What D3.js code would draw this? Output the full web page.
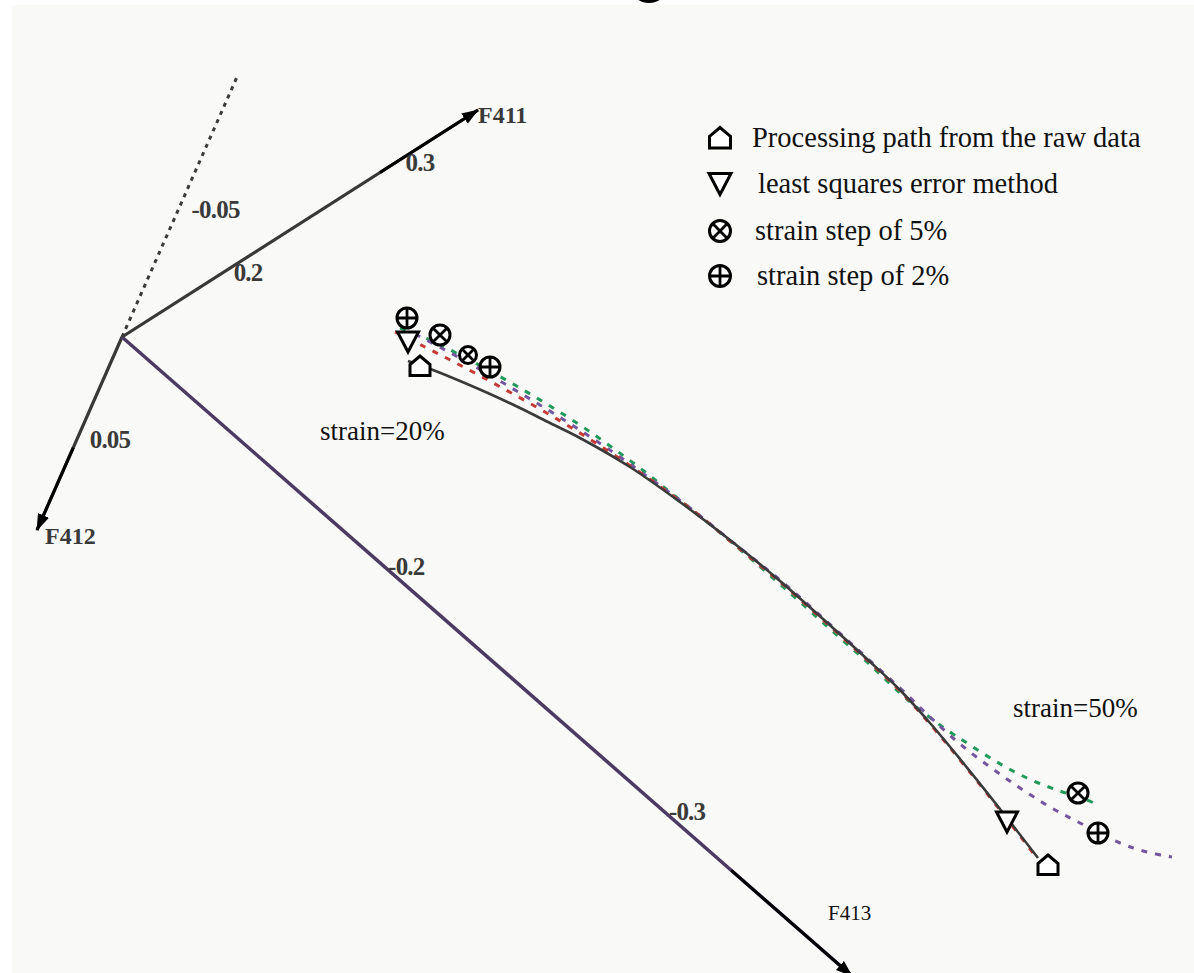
<!DOCTYPE html>
<html>
<head>
<meta charset="utf-8">
<script src="https://cdn.jsdelivr.net/npm/d3@7"></script>
<style>
  html, body { margin: 0; padding: 0; background: #ffffff; }
  svg { display: block; }
  text { font-family: "Liberation Serif", "Times New Roman", serif; }
</style>
</head>
<body>
<svg id="chart" width="1194" height="973"></svg>
<script>
// ---------- DATA (projection-plane units, origin = axes corner) ----------
const axisNames   = ["F411", "F412", "F413", ""];
const axisTips    = [[3.56, 2.27], [-0.85, -1.93], [7.30, -6.39], [1.15, 2.60]];
const axisDomains = [[0.138, 0.345], [0, 0.096], [-0.107, -0.367], [0, -0.1]];
const axisTicks   = [[0.2, 0.3], [0.05], [-0.2, -0.3], [-0.05]];
const axisTickLabels = [["0.2", "0.3"], ["0.05"], ["-0.2", "-0.3"], ["-0.05"]];
const arrowStart  = [0.288, 0.055, -0.324, null];

const seriesNames = ["Processing path from the raw data", "least squares error method",
                     "strain step of 5%", "strain step of 2%"];

const rawPath = [[2.86,-0.24],[3.11,-0.33],[3.38,-0.44],[3.68,-0.57],[3.98,-0.71],[4.28,-0.86],
  [4.58,-1.01],[5.08,-1.30],[5.58,-1.65],[6.08,-2.03],[6.58,-2.44],[7.11,-2.91],[7.45,-3.22],
  [7.78,-3.53],[8.08,-3.86],[8.38,-4.22],[8.78,-4.72],[9.16,-5.21]];

const lsqPath = [[2.73,0.05],[3.03,-0.10],[3.33,-0.255],[3.63,-0.415],[3.93,-0.58],[4.23,-0.75],
  [4.53,-0.93],[4.83,-1.12],[5.13,-1.32],[5.43,-1.53],[5.78,-1.79],[6.08,-2.04],[6.58,-2.45],
  [7.11,-2.92],[7.45,-3.23],[7.78,-3.54],[8.08,-3.87],[8.38,-4.23],[8.78,-4.73],[9.14,-5.20]];

const step5Path = [[2.78,0.09],[3.08,-0.03],[3.38,-0.18],[3.68,-0.34],[3.98,-0.51],[4.28,-0.69],
  [4.58,-0.88],[4.88,-1.09],[5.18,-1.31],[5.48,-1.55],[5.78,-1.79],[6.21,-2.15],[6.51,-2.41],
  [6.78,-2.65],[7.08,-2.92],[7.45,-3.25],[7.78,-3.56],[7.98,-3.73],[8.28,-3.95],[8.45,-4.06],
  [8.75,-4.25],[9.05,-4.41],[9.35,-4.53],[9.65,-4.63],[9.76,-4.68]];

const step2Path = [[2.93,0.03],[3.23,-0.13],[3.53,-0.295],[3.83,-0.47],[4.13,-0.65],[4.43,-0.835],
  [4.73,-1.03],[5.03,-1.235],[5.33,-1.45],[5.68,-1.71],[6.08,-2.03],[6.58,-2.43],[7.11,-2.90],
  [7.45,-3.21],[7.78,-3.51],[8.08,-3.80],[8.38,-4.07],[8.68,-4.30],[8.98,-4.51],[9.28,-4.70],
  [9.58,-4.86],[9.98,-5.06],[10.25,-5.15],[10.50,-5.20]];

const rawMarkers   = [[2.98,-0.29],[9.26,-5.28]];
const lsqMarkers   = [[2.86,-0.05],[8.85,-4.85]];
const step5Markers = [[3.18,0.02,10],[3.46,-0.18,8.5],[9.56,-4.56,10]];
const step2Markers = [[2.85,0.19],[3.68,-0.30],[9.76,-4.96]];

const annotations = [["strain=20%", 1.98, -1.03], ["strain=50%", 8.91, -3.80]];

// ---------- STYLES ----------
const seriesColors = ["#3a3a3a", "#c43a35", "#21995a", "#74559f"];
const svg = d3.select("#chart");
const W = 1194, H = 973;

const x = d3.scaleLinear().domain([-1.22, 10.72]).range([0, W]);
const y = d3.scaleLinear().domain([3.37, -6.36]).range([0, H]);

// background
svg.append("rect").attr("x", 12).attr("y", 5).attr("width", W - 12).attr("height", H - 5)
  .attr("fill", "#f9f9f7");
// fragment of a cut-off glyph at top
svg.append("ellipse").attr("cx", 649).attr("cy", -9).attr("rx", 16).attr("ry", 12).attr("fill", "#000");

// arrow markers
const defs = svg.append("defs");
defs.append("marker").attr("id", "arr").attr("markerUnits", "userSpaceOnUse")
  .attr("markerWidth", 18).attr("markerHeight", 14).attr("refX", 16).attr("refY", 6)
  .attr("orient", "auto")
  .append("path").attr("d", "M0,0 L17,6 L0,12 Z").attr("fill", "#000");

// ---------- AXES ----------
const tickOffsets = [[5, 12], [12, 10], [5, 9], [12, 11]];
const nameOffsets = [[0, 13], [8, 14], [-24, -56], [0, 0]];
const axisColors = ["#383838", "#383838", "#4b3b63", "#3a3a3a"];

axisTips.forEach((tip, i) => {
  const t = d3.scaleLinear().domain(axisDomains[i]).range([0, 1]);
  const pt = v => { const k = t(v); return [x(k * tip[0]), y(k * tip[1])]; };
  const o = [x(0), y(0)];
  const e = [x(tip[0]), y(tip[1])];
  const g = svg.append("g");
  const line = g.append("line").attr("x1", o[0]).attr("y1", o[1]).attr("x2", e[0]).attr("y2", e[1])
    .attr("stroke", axisColors[i]).attr("stroke-width", i === 2 ? 3.5 : 3.2);
  if (i === 3) {
    line.attr("stroke-dasharray", "4,5").attr("stroke-width", 3);
  }
  if (arrowStart[i] !== null) {
    const s = pt(arrowStart[i]);
    g.append("line").attr("x1", s[0]).attr("y1", s[1]).attr("x2", e[0]).attr("y2", e[1])
      .attr("stroke", "#000").attr("stroke-width", 3).attr("marker-end", "url(#arr)");
  }
  axisTicks[i].forEach((v, j) => {
    const p = pt(v);
    g.append("text").attr("x", p[0] + tickOffsets[i][0]).attr("y", p[1] + tickOffsets[i][1])
      .attr("font-size", 25).attr("font-weight", "bold").attr("fill", "#3a3a3a")
      .attr("letter-spacing", -0.8)
      .text(axisTickLabels[i][j]);
  });
  if (axisNames[i]) {
    const nt = g.append("text").attr("x", e[0] + nameOffsets[i][0]).attr("y", e[1] + nameOffsets[i][1])
      .text(axisNames[i]);
    if (i === 2) nt.attr("font-size", 21).attr("fill", "#111");
    else nt.attr("font-size", 24).attr("font-weight", "bold").attr("fill", "#3a3a3a");
  }
});

// ---------- CURVES ----------
const lineGen = d3.line().x(d => x(d[0])).y(d => y(d[1])).curve(d3.curveCatmullRom.alpha(0.5));
const paths = [rawPath, lsqPath, step5Path, step2Path];
// draw dashed first, solid on top
[2, 3, 1, 0].forEach(i => {
  const p = svg.append("path").datum(paths[i]).attr("d", lineGen)
    .attr("fill", "none").attr("stroke", seriesColors[i]).attr("stroke-width", i === 0 ? 2.6 : 3);
  if (i > 0) p.attr("stroke-dasharray", "6,8");
});

// ---------- MARKERS ----------
function house(g, cx, cy, s) {
  g.append("path")
    .attr("d", `M${cx - s},${cy + s * 0.95} L${cx - s},${cy - s * 0.15} L${cx},${cy - s} L${cx + s},${cy - s * 0.15} L${cx + s},${cy + s * 0.95} Z`)
    .attr("fill", "#fff").attr("stroke", "#000").attr("stroke-width", 3).attr("stroke-linejoin", "miter");
}
function tri(g, cx, cy, s) {
  g.append("path")
    .attr("d", `M${cx - s * 1.05},${cy - s} L${cx + s * 1.05},${cy - s} L${cx},${cy + s} Z`)
    .attr("fill", "#fff").attr("stroke", "#000").attr("stroke-width", 3);
}
function otimes(g, cx, cy, r) {
  g.append("circle").attr("cx", cx).attr("cy", cy).attr("r", r)
    .attr("fill", "#fff").attr("stroke", "#000").attr("stroke-width", 3);
  const k = r * 0.707;
  g.append("path").attr("d", `M${cx - k},${cy - k} L${cx + k},${cy + k} M${cx - k},${cy + k} L${cx + k},${cy - k}`)
    .attr("stroke", "#000").attr("stroke-width", 2.8);
}
function oplus(g, cx, cy, r) {
  g.append("circle").attr("cx", cx).attr("cy", cy).attr("r", r)
    .attr("fill", "#fff").attr("stroke", "#000").attr("stroke-width", 3);
  g.append("path").attr("d", `M${cx - r},${cy} L${cx + r},${cy} M${cx},${cy - r} L${cx},${cy + r}`)
    .attr("stroke", "#000").attr("stroke-width", 2.8);
}
const mg = svg.append("g");
rawMarkers.forEach(d => house(mg, x(d[0]), y(d[1]), 10));
lsqMarkers.forEach(d => tri(mg, x(d[0]), y(d[1]), 10));
step5Markers.forEach(d => otimes(mg, x(d[0]), y(d[1]), d[2]));
step2Markers.forEach(d => oplus(mg, x(d[0]), y(d[1]), 10));

// ---------- ANNOTATIONS ----------
annotations.forEach(a => {
  svg.append("text").attr("x", x(a[1])).attr("y", y(a[2])).attr("font-size", 27).attr("fill", "#111").text(a[0]);
});

// ---------- LEGEND ----------
const legendRows = [147, 193, 240, 285];
const legendTextX = [752, 758, 755, 757];
const lg = svg.append("g");
const drawers = [(cx, cy) => house(lg, cx, cy, 10.5), (cx, cy) => tri(lg, cx, cy, 10.5),
                 (cx, cy) => otimes(lg, cx, cy, 10.5), (cx, cy) => oplus(lg, cx, cy, 10.5)];
seriesNames.forEach((n, i) => {
  drawers[i](720, legendRows[i] - 9);
  lg.append("text").attr("x", legendTextX[i]).attr("y", legendRows[i])
    .attr("font-size", 28.5).attr("fill", "#111").text(n);
});
</script>
</body>
</html>
